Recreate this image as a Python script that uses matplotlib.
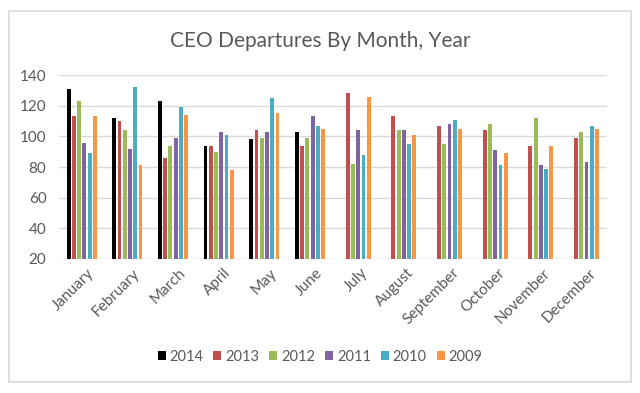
import matplotlib.pyplot as plt
import matplotlib.transforms as mtransforms
import numpy as np
from matplotlib.patches import Rectangle

plt.rcParams['font.family'] = ['Lato', 'DejaVu Sans']

# 月份和各年份的CEO离职数量
months = ["January", "February", "March", "April", "May", "June",
          "July", "August", "September", "October", "November", "December"]
nan = np.nan
y2014 = [131, 112, 123, 94, 98, 103, nan, nan, nan, nan, nan, nan]
y2013 = [113, 110, 86, 94, 104, 94, 128, 113, 107, 104, 94, 99]
y2012 = [123, 104, 94, 90, 99, 99, 82, 104, 95, 108, 112, 103]
y2011 = [96, 92, 99, 103, 103, 113, 104, 104, 108, 91, 81, 83]
y2010 = [89, 132, 119, 101, 125, 107, 88, 95, 111, 81, 79, 107]
y2009 = [113, 81, 114, 78, 115, 105, 126, 101, 105, 89, 94, 105]

series = [("2014", y2014), ("2013", y2013), ("2012", y2012),
          ("2011", y2011), ("2010", y2010), ("2009", y2009)]
colors = ['#000000', '#C0504D', '#9BBB59', '#8064A2', '#4BACC6', '#F79646']
text_color = '#595959'

fig = plt.figure(figsize=(6.4, 3.93), dpi=100)
# 外框
fig.patches.append(Rectangle((0.014, 0.027), 0.972, 0.945, transform=fig.transFigure,
                             fill=False, edgecolor='#D9D9D9', linewidth=1.2))

ax = fig.add_axes([0.092, 0.341, 0.856, 0.468])

x = np.arange(len(months))
slot = 0.115
bar_width = 0.085
for i, (label, vals) in enumerate(series):
    offset = (i - 2.5) * slot
    ax.bar(x + offset, np.array(vals, dtype=float) - 20, bottom=20, width=bar_width,
           color=colors[i], label=label)

ax.set_xlim(-0.5, len(months) - 0.5)
ax.set_ylim(20, 140)
ax.set_yticks(np.arange(20, 141, 20))
ax.yaxis.grid(True, color='#D9D9D9', linewidth=1)
ax.set_axisbelow(True)
for s in ax.spines.values():
    s.set_visible(False)
ax.tick_params(axis='both', length=0, colors=text_color, labelsize=11)
ax.tick_params(axis='y', pad=9)
ax.tick_params(axis='x', pad=5)
ax.set_xticks(x)
ax.set_xticklabels(months, rotation=45, ha='right', rotation_mode='anchor')
shift = mtransforms.ScaledTranslation(5 / 100, 0, fig.dpi_scale_trans)
for lbl in ax.get_xticklabels():
    lbl.set_transform(lbl.get_transform() + shift)

fig.text(0.5, 0.895, "CEO Departures By Month, Year", ha='center', va='center',
         fontsize=15, color=text_color)

ax.legend(loc='center', ncol=6, frameon=False, fontsize=10.5, handlelength=0.55,
          handleheight=0.55, handletextpad=0.25, columnspacing=0.7, labelcolor=text_color)
ax.get_legend().set_bbox_to_anchor((0.5, 1 - 357 / 393), transform=fig.transFigure)

fig.savefig("out.png", dpi=100)
